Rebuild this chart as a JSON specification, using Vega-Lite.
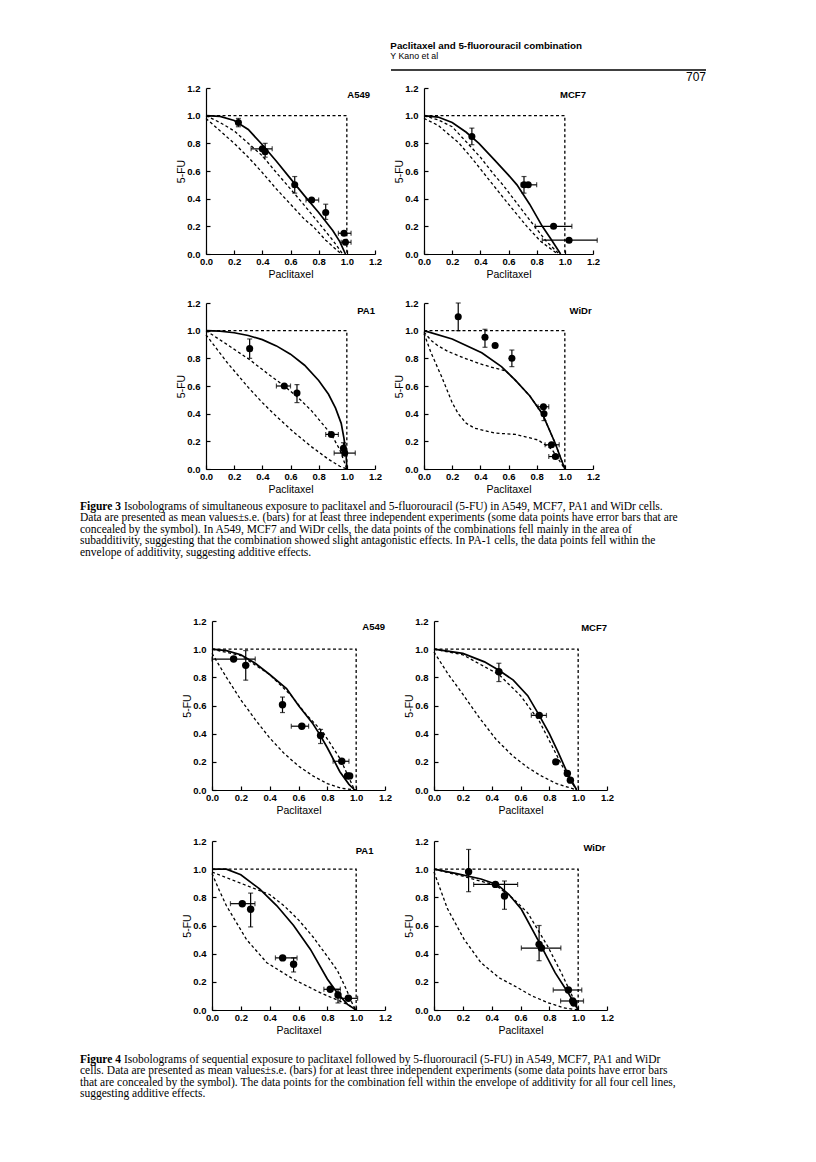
{
"$schema":"https://vega.github.io/schema/vega-lite/v6.json",
"background":"white",
"padding":{"left":80,"top":40,"right":5,"bottom":5},
"spacing":0,
"datasets":{
"f3":[
{"p":"A549","k":"lab","lx":1.165,"ly":1.15},
{"p":"A549","k":"box","s":0,"x":0,"y":1},{"p":"A549","k":"box","s":1,"x":1,"y":1},{"p":"A549","k":"box","s":2,"x":1,"y":0},
{"p":"A549","k":"solid","x":0,"y":1},{"p":"A549","k":"solid","x":0.1,"y":0.995},{"p":"A549","k":"solid","x":0.2,"y":0.965},{"p":"A549","k":"solid","x":0.3,"y":0.9},{"p":"A549","k":"solid","x":0.4,"y":0.79},{"p":"A549","k":"solid","x":0.5,"y":0.67},{"p":"A549","k":"solid","x":0.6,"y":0.545},{"p":"A549","k":"solid","x":0.7,"y":0.42},{"p":"A549","k":"solid","x":0.8,"y":0.3},{"p":"A549","k":"solid","x":0.9,"y":0.17},{"p":"A549","k":"solid","x":0.95,"y":0.09},{"p":"A549","k":"solid","x":0.99,"y":0},
{"p":"A549","k":"dash1","x":0,"y":1},{"p":"A549","k":"dash1","x":0.1,"y":0.95},{"p":"A549","k":"dash1","x":0.2,"y":0.89},{"p":"A549","k":"dash1","x":0.3,"y":0.8},{"p":"A549","k":"dash1","x":0.4,"y":0.71},{"p":"A549","k":"dash1","x":0.49,"y":0.6},{"p":"A549","k":"dash1","x":0.6,"y":0.47},{"p":"A549","k":"dash1","x":0.7,"y":0.35},{"p":"A549","k":"dash1","x":0.82,"y":0.2},{"p":"A549","k":"dash1","x":0.9,"y":0.1},{"p":"A549","k":"dash1","x":0.97,"y":0},
{"p":"A549","k":"dash2","x":0,"y":0.98},{"p":"A549","k":"dash2","x":0.1,"y":0.89},{"p":"A549","k":"dash2","x":0.2,"y":0.8},{"p":"A549","k":"dash2","x":0.3,"y":0.7},{"p":"A549","k":"dash2","x":0.39,"y":0.6},{"p":"A549","k":"dash2","x":0.5,"y":0.47},{"p":"A549","k":"dash2","x":0.6,"y":0.36},{"p":"A549","k":"dash2","x":0.7,"y":0.25},{"p":"A549","k":"dash2","x":0.76,"y":0.2},{"p":"A549","k":"dash2","x":0.85,"y":0.1},{"p":"A549","k":"dash2","x":0.96,"y":0},
{"p":"A549","k":"pt","x":0.23,"y":0.95,"ylo":0.92,"yhi":0.98},
{"p":"A549","k":"pt","x":0.4,"y":0.76,"xlo":0.32,"xhi":0.47},
{"p":"A549","k":"pt","x":0.42,"y":0.74,"ylo":0.7,"yhi":0.8},
{"p":"A549","k":"pt","x":0.63,"y":0.5,"ylo":0.44,"yhi":0.56},
{"p":"A549","k":"pt","x":0.75,"y":0.39,"xlo":0.71,"xhi":0.8},
{"p":"A549","k":"pt","x":0.85,"y":0.3,"ylo":0.25,"yhi":0.36},
{"p":"A549","k":"pt","x":0.98,"y":0.15,"xlo":0.94,"xhi":1.03},
{"p":"A549","k":"pt","x":0.99,"y":0.085,"xlo":0.96,"xhi":1.03},
{"p":"MCF7","k":"lab","lx":1.15,"ly":1.15},
{"p":"MCF7","k":"box","s":0,"x":0,"y":1},{"p":"MCF7","k":"box","s":1,"x":1,"y":1},{"p":"MCF7","k":"box","s":2,"x":1,"y":0},
{"p":"MCF7","k":"solid","x":0,"y":1},{"p":"MCF7","k":"solid","x":0.1,"y":0.99},{"p":"MCF7","k":"solid","x":0.2,"y":0.95},{"p":"MCF7","k":"solid","x":0.3,"y":0.88},{"p":"MCF7","k":"solid","x":0.39,"y":0.8},{"p":"MCF7","k":"solid","x":0.5,"y":0.68},{"p":"MCF7","k":"solid","x":0.6,"y":0.57},{"p":"MCF7","k":"solid","x":0.66,"y":0.5},{"p":"MCF7","k":"solid","x":0.75,"y":0.36},{"p":"MCF7","k":"solid","x":0.84,"y":0.2},{"p":"MCF7","k":"solid","x":0.9,"y":0.11},{"p":"MCF7","k":"solid","x":0.97,"y":0},
{"p":"MCF7","k":"dash1","x":0,"y":1},{"p":"MCF7","k":"dash1","x":0.1,"y":0.97},{"p":"MCF7","k":"dash1","x":0.2,"y":0.92},{"p":"MCF7","k":"dash1","x":0.31,"y":0.8},{"p":"MCF7","k":"dash1","x":0.4,"y":0.7},{"p":"MCF7","k":"dash1","x":0.5,"y":0.57},{"p":"MCF7","k":"dash1","x":0.56,"y":0.5},{"p":"MCF7","k":"dash1","x":0.65,"y":0.38},{"p":"MCF7","k":"dash1","x":0.785,"y":0.2},{"p":"MCF7","k":"dash1","x":0.87,"y":0.09},{"p":"MCF7","k":"dash1","x":0.96,"y":0},
{"p":"MCF7","k":"dash2","x":0,"y":0.98},{"p":"MCF7","k":"dash2","x":0.1,"y":0.93},{"p":"MCF7","k":"dash2","x":0.17,"y":0.87},{"p":"MCF7","k":"dash2","x":0.25,"y":0.8},{"p":"MCF7","k":"dash2","x":0.35,"y":0.68},{"p":"MCF7","k":"dash2","x":0.49,"y":0.5},{"p":"MCF7","k":"dash2","x":0.6,"y":0.36},{"p":"MCF7","k":"dash2","x":0.73,"y":0.2},{"p":"MCF7","k":"dash2","x":0.83,"y":0.09},{"p":"MCF7","k":"dash2","x":0.95,"y":0},
{"p":"MCF7","k":"pt","x":0.34,"y":0.85,"ylo":0.79,"yhi":0.91},
{"p":"MCF7","k":"pt","x":0.71,"y":0.5,"ylo":0.44,"yhi":0.56},
{"p":"MCF7","k":"pt","x":0.74,"y":0.5,"xlo":0.69,"xhi":0.8},
{"p":"MCF7","k":"pt","x":0.92,"y":0.2,"xlo":0.79,"xhi":1.05},
{"p":"MCF7","k":"pt","x":1.03,"y":0.1,"xlo":0.84,"xhi":1.23},
{"p":"PA1","k":"lab","lx":1.2,"ly":1.14},
{"p":"PA1","k":"box","s":0,"x":0,"y":1},{"p":"PA1","k":"box","s":1,"x":1,"y":1},{"p":"PA1","k":"box","s":2,"x":1,"y":0},
{"p":"PA1","k":"solid","x":0,"y":1},{"p":"PA1","k":"solid","x":0.1,"y":0.997},{"p":"PA1","k":"solid","x":0.2,"y":0.985},{"p":"PA1","k":"solid","x":0.3,"y":0.965},{"p":"PA1","k":"solid","x":0.4,"y":0.935},{"p":"PA1","k":"solid","x":0.5,"y":0.89},{"p":"PA1","k":"solid","x":0.6,"y":0.83},{"p":"PA1","k":"solid","x":0.7,"y":0.75},{"p":"PA1","k":"solid","x":0.8,"y":0.64},{"p":"PA1","k":"solid","x":0.87,"y":0.54},{"p":"PA1","k":"solid","x":0.92,"y":0.44},{"p":"PA1","k":"solid","x":0.96,"y":0.33},{"p":"PA1","k":"solid","x":0.98,"y":0.22},{"p":"PA1","k":"solid","x":0.995,"y":0.1},{"p":"PA1","k":"solid","x":1,"y":0},
{"p":"PA1","k":"dash1","x":0,"y":1},{"p":"PA1","k":"dash1","x":0.15,"y":0.9},{"p":"PA1","k":"dash1","x":0.31,"y":0.79},{"p":"PA1","k":"dash1","x":0.45,"y":0.68},{"p":"PA1","k":"dash1","x":0.556,"y":0.6},{"p":"PA1","k":"dash1","x":0.65,"y":0.52},{"p":"PA1","k":"dash1","x":0.75,"y":0.42},{"p":"PA1","k":"dash1","x":0.89,"y":0.25},{"p":"PA1","k":"dash1","x":0.95,"y":0.14},{"p":"PA1","k":"dash1","x":1,"y":0},
{"p":"PA1","k":"dash2","x":0,"y":0.97},{"p":"PA1","k":"dash2","x":0.15,"y":0.77},{"p":"PA1","k":"dash2","x":0.3,"y":0.59},{"p":"PA1","k":"dash2","x":0.4,"y":0.48},{"p":"PA1","k":"dash2","x":0.5,"y":0.38},{"p":"PA1","k":"dash2","x":0.63,"y":0.26},{"p":"PA1","k":"dash2","x":0.75,"y":0.16},{"p":"PA1","k":"dash2","x":0.87,"y":0.07},{"p":"PA1","k":"dash2","x":0.95,"y":0.02},{"p":"PA1","k":"dash2","x":1,"y":0},
{"p":"PA1","k":"pt","x":0.31,"y":0.87,"ylo":0.8,"yhi":0.94},
{"p":"PA1","k":"pt","x":0.556,"y":0.6,"xlo":0.5,"xhi":0.6},
{"p":"PA1","k":"pt","x":0.646,"y":0.55,"ylo":0.48,"yhi":0.61},
{"p":"PA1","k":"pt","x":0.89,"y":0.25,"xlo":0.85,"xhi":0.94},
{"p":"PA1","k":"pt","x":0.976,"y":0.15,"ylo":0.12,"yhi":0.19},
{"p":"PA1","k":"pt","x":0.985,"y":0.115,"xlo":0.91,"xhi":1.06},
{"p":"WiDr","k":"lab","lx":1.19,"ly":1.14},
{"p":"WiDr","k":"box","s":0,"x":0,"y":1},{"p":"WiDr","k":"box","s":1,"x":1,"y":1},{"p":"WiDr","k":"box","s":2,"x":1,"y":0},
{"p":"WiDr","k":"solid","x":0,"y":1},{"p":"WiDr","k":"solid","x":0.2,"y":0.94},{"p":"WiDr","k":"solid","x":0.41,"y":0.84},{"p":"WiDr","k":"solid","x":0.55,"y":0.74},{"p":"WiDr","k":"solid","x":0.65,"y":0.64},{"p":"WiDr","k":"solid","x":0.75,"y":0.53},{"p":"WiDr","k":"solid","x":0.84,"y":0.4},{"p":"WiDr","k":"solid","x":0.93,"y":0.19},{"p":"WiDr","k":"solid","x":1,"y":0},
{"p":"WiDr","k":"dash1","x":0,"y":0.99},{"p":"WiDr","k":"dash1","x":0.05,"y":0.93},{"p":"WiDr","k":"dash1","x":0.1,"y":0.89},{"p":"WiDr","k":"dash1","x":0.17,"y":0.85},{"p":"WiDr","k":"dash1","x":0.29,"y":0.8},{"p":"WiDr","k":"dash1","x":0.4,"y":0.76},{"p":"WiDr","k":"dash1","x":0.5,"y":0.73},{"p":"WiDr","k":"dash1","x":0.58,"y":0.71},{"p":"WiDr","k":"dash1","x":0.65,"y":0.64},{"p":"WiDr","k":"dash1","x":0.75,"y":0.53},{"p":"WiDr","k":"dash1","x":0.84,"y":0.4},{"p":"WiDr","k":"dash1","x":0.93,"y":0.19},{"p":"WiDr","k":"dash1","x":1,"y":0},
{"p":"WiDr","k":"dash2","x":0,"y":0.98},{"p":"WiDr","k":"dash2","x":0.05,"y":0.84},{"p":"WiDr","k":"dash2","x":0.124,"y":0.67},{"p":"WiDr","k":"dash2","x":0.2,"y":0.48},{"p":"WiDr","k":"dash2","x":0.243,"y":0.4},{"p":"WiDr","k":"dash2","x":0.3,"y":0.33},{"p":"WiDr","k":"dash2","x":0.36,"y":0.295},{"p":"WiDr","k":"dash2","x":0.5,"y":0.26},{"p":"WiDr","k":"dash2","x":0.65,"y":0.25},{"p":"WiDr","k":"dash2","x":0.81,"y":0.21},{"p":"WiDr","k":"dash2","x":0.91,"y":0.14},{"p":"WiDr","k":"dash2","x":1,"y":0},
{"p":"WiDr","k":"pt","x":0.243,"y":1.1,"ylo":1.0,"yhi":1.2},
{"p":"WiDr","k":"pt","x":0.433,"y":0.953,"ylo":0.88,"yhi":1.01},
{"p":"WiDr","k":"pt","x":0.505,"y":0.893},
{"p":"WiDr","k":"pt","x":0.624,"y":0.8,"ylo":0.74,"yhi":0.86},
{"p":"WiDr","k":"pt","x":0.848,"y":0.45,"xlo":0.81,"xhi":0.886},
{"p":"WiDr","k":"pt","x":0.852,"y":0.4,"ylo":0.35,"yhi":0.45},
{"p":"WiDr","k":"pt","x":0.905,"y":0.175,"xlo":0.86,"xhi":0.96},
{"p":"WiDr","k":"pt","x":0.933,"y":0.09,"xlo":0.886,"xhi":0.957}
],
"f4":[
{"p":"A549","k":"lab","lx":1.2,"ly":1.16},
{"p":"A549","k":"box","s":0,"x":0,"y":1},{"p":"A549","k":"box","s":1,"x":1,"y":1},{"p":"A549","k":"box","s":2,"x":1,"y":0},
{"p":"A549","k":"solid","x":0,"y":1},{"p":"A549","k":"solid","x":0.1,"y":0.99},{"p":"A549","k":"solid","x":0.2,"y":0.96},{"p":"A549","k":"solid","x":0.3,"y":0.9},{"p":"A549","k":"solid","x":0.4,"y":0.82},{"p":"A549","k":"solid","x":0.517,"y":0.72},{"p":"A549","k":"solid","x":0.6,"y":0.6},{"p":"A549","k":"solid","x":0.7,"y":0.47},{"p":"A549","k":"solid","x":0.75,"y":0.39},{"p":"A549","k":"solid","x":0.8,"y":0.3},{"p":"A549","k":"solid","x":0.887,"y":0.13},{"p":"A549","k":"solid","x":0.95,"y":0.04},{"p":"A549","k":"solid","x":0.99,"y":0},
{"p":"A549","k":"dash1","x":0,"y":1},{"p":"A549","k":"dash1","x":0.2,"y":0.955},{"p":"A549","k":"dash1","x":0.4,"y":0.82},{"p":"A549","k":"dash1","x":0.55,"y":0.67},{"p":"A549","k":"dash1","x":0.65,"y":0.54},{"p":"A549","k":"dash1","x":0.77,"y":0.41},{"p":"A549","k":"dash1","x":0.89,"y":0.22},{"p":"A549","k":"dash1","x":0.98,"y":0.02},{"p":"A549","k":"dash1","x":1,"y":0},
{"p":"A549","k":"dash2","x":0,"y":0.97},{"p":"A549","k":"dash2","x":0.1,"y":0.8},{"p":"A549","k":"dash2","x":0.2,"y":0.64},{"p":"A549","k":"dash2","x":0.3,"y":0.5},{"p":"A549","k":"dash2","x":0.4,"y":0.37},{"p":"A549","k":"dash2","x":0.5,"y":0.26},{"p":"A549","k":"dash2","x":0.6,"y":0.17},{"p":"A549","k":"dash2","x":0.7,"y":0.1},{"p":"A549","k":"dash2","x":0.8,"y":0.045},{"p":"A549","k":"dash2","x":0.9,"y":0.012},{"p":"A549","k":"dash2","x":1,"y":0},
{"p":"A549","k":"pt","x":0.15,"y":0.93,"xlo":0,"xhi":0.3},
{"p":"A549","k":"pt","x":0.234,"y":0.885,"ylo":0.78,"yhi":0.99},
{"p":"A549","k":"pt","x":0.489,"y":0.605,"ylo":0.55,"yhi":0.66},
{"p":"A549","k":"pt","x":0.623,"y":0.453,"xlo":0.55,"xhi":0.67},
{"p":"A549","k":"pt","x":0.753,"y":0.387,"ylo":0.33,"yhi":0.43},
{"p":"A549","k":"pt","x":0.9,"y":0.204,"xlo":0.84,"xhi":0.95},
{"p":"A549","k":"pt","x":0.94,"y":0.1},
{"p":"A549","k":"pt","x":0.955,"y":0.1},
{"p":"MCF7","k":"lab","lx":1.2,"ly":1.15},
{"p":"MCF7","k":"box","s":0,"x":0,"y":1},{"p":"MCF7","k":"box","s":1,"x":1,"y":1},{"p":"MCF7","k":"box","s":2,"x":1,"y":0},
{"p":"MCF7","k":"solid","x":0,"y":1},{"p":"MCF7","k":"solid","x":0.2,"y":0.97},{"p":"MCF7","k":"solid","x":0.35,"y":0.91},{"p":"MCF7","k":"solid","x":0.45,"y":0.85},{"p":"MCF7","k":"solid","x":0.55,"y":0.78},{"p":"MCF7","k":"solid","x":0.65,"y":0.67},{"p":"MCF7","k":"solid","x":0.73,"y":0.53},{"p":"MCF7","k":"solid","x":0.8,"y":0.4},{"p":"MCF7","k":"solid","x":0.86,"y":0.27},{"p":"MCF7","k":"solid","x":0.93,"y":0.11},{"p":"MCF7","k":"solid","x":0.99,"y":0},
{"p":"MCF7","k":"dash1","x":0,"y":1},{"p":"MCF7","k":"dash1","x":0.2,"y":0.96},{"p":"MCF7","k":"dash1","x":0.45,"y":0.82},{"p":"MCF7","k":"dash1","x":0.6,"y":0.67},{"p":"MCF7","k":"dash1","x":0.73,"y":0.49},{"p":"MCF7","k":"dash1","x":0.84,"y":0.27},{"p":"MCF7","k":"dash1","x":0.93,"y":0.09},{"p":"MCF7","k":"dash1","x":0.99,"y":0},
{"p":"MCF7","k":"dash2","x":0,"y":0.98},{"p":"MCF7","k":"dash2","x":0.05,"y":0.9},{"p":"MCF7","k":"dash2","x":0.1,"y":0.82},{"p":"MCF7","k":"dash2","x":0.2,"y":0.68},{"p":"MCF7","k":"dash2","x":0.317,"y":0.51},{"p":"MCF7","k":"dash2","x":0.43,"y":0.36},{"p":"MCF7","k":"dash2","x":0.548,"y":0.24},{"p":"MCF7","k":"dash2","x":0.65,"y":0.16},{"p":"MCF7","k":"dash2","x":0.733,"y":0.106},{"p":"MCF7","k":"dash2","x":0.85,"y":0.045},{"p":"MCF7","k":"dash2","x":0.99,"y":0},
{"p":"MCF7","k":"pt","x":0.45,"y":0.84,"ylo":0.77,"yhi":0.9},
{"p":"MCF7","k":"pt","x":0.73,"y":0.53,"xlo":0.675,"xhi":0.78},
{"p":"MCF7","k":"pt","x":0.845,"y":0.2},
{"p":"MCF7","k":"pt","x":0.925,"y":0.118},
{"p":"MCF7","k":"pt","x":0.946,"y":0.07},
{"p":"PA1","k":"lab","lx":1.12,"ly":1.13},
{"p":"PA1","k":"box","s":0,"x":0,"y":1},{"p":"PA1","k":"box","s":1,"x":1,"y":1},{"p":"PA1","k":"box","s":2,"x":1,"y":0},
{"p":"PA1","k":"solid","x":0,"y":1},{"p":"PA1","k":"solid","x":0.1,"y":1},{"p":"PA1","k":"solid","x":0.2,"y":0.96},{"p":"PA1","k":"solid","x":0.33,"y":0.86},{"p":"PA1","k":"solid","x":0.45,"y":0.74},{"p":"PA1","k":"solid","x":0.566,"y":0.6},{"p":"PA1","k":"solid","x":0.683,"y":0.43},{"p":"PA1","k":"solid","x":0.8,"y":0.22},{"p":"PA1","k":"solid","x":0.87,"y":0.12},{"p":"PA1","k":"solid","x":0.94,"y":0.04},{"p":"PA1","k":"solid","x":1,"y":0},
{"p":"PA1","k":"dash1","x":0,"y":0.98},{"p":"PA1","k":"dash1","x":0.1,"y":0.94},{"p":"PA1","k":"dash1","x":0.2,"y":0.9},{"p":"PA1","k":"dash1","x":0.3,"y":0.86},{"p":"PA1","k":"dash1","x":0.4,"y":0.82},{"p":"PA1","k":"dash1","x":0.5,"y":0.74},{"p":"PA1","k":"dash1","x":0.6,"y":0.64},{"p":"PA1","k":"dash1","x":0.7,"y":0.52},{"p":"PA1","k":"dash1","x":0.8,"y":0.38},{"p":"PA1","k":"dash1","x":0.87,"y":0.28},{"p":"PA1","k":"dash1","x":0.93,"y":0.15},{"p":"PA1","k":"dash1","x":0.98,"y":0.03},{"p":"PA1","k":"dash1","x":1,"y":0},
{"p":"PA1","k":"dash2","x":0,"y":0.97},{"p":"PA1","k":"dash2","x":0.05,"y":0.85},{"p":"PA1","k":"dash2","x":0.1,"y":0.74},{"p":"PA1","k":"dash2","x":0.24,"y":0.5},{"p":"PA1","k":"dash2","x":0.38,"y":0.336},{"p":"PA1","k":"dash2","x":0.566,"y":0.218},{"p":"PA1","k":"dash2","x":0.75,"y":0.123},{"p":"PA1","k":"dash2","x":0.94,"y":0.04},{"p":"PA1","k":"dash2","x":1,"y":0},
{"p":"PA1","k":"pt","x":0.21,"y":0.755,"xlo":0.128,"xhi":0.298},
{"p":"PA1","k":"pt","x":0.268,"y":0.715,"ylo":0.59,"yhi":0.83},
{"p":"PA1","k":"pt","x":0.49,"y":0.37,"xlo":0.44,"xhi":0.59},
{"p":"PA1","k":"pt","x":0.566,"y":0.325,"ylo":0.27,"yhi":0.37},
{"p":"PA1","k":"pt","x":0.82,"y":0.147,"xlo":0.776,"xhi":0.89},
{"p":"PA1","k":"pt","x":0.874,"y":0.106,"ylo":0.05,"yhi":0.147},
{"p":"PA1","k":"pt","x":0.946,"y":0.083,"xlo":0.89,"xhi":1.01},
{"p":"WiDr","k":"lab","lx":1.19,"ly":1.15},
{"p":"WiDr","k":"box","s":0,"x":0,"y":1},{"p":"WiDr","k":"box","s":1,"x":1,"y":1},{"p":"WiDr","k":"box","s":2,"x":1,"y":0},
{"p":"WiDr","k":"solid","x":0,"y":1},{"p":"WiDr","k":"solid","x":0.15,"y":0.97},{"p":"WiDr","k":"solid","x":0.326,"y":0.93},{"p":"WiDr","k":"solid","x":0.44,"y":0.89},{"p":"WiDr","k":"solid","x":0.52,"y":0.82},{"p":"WiDr","k":"solid","x":0.606,"y":0.715},{"p":"WiDr","k":"solid","x":0.72,"y":0.5},{"p":"WiDr","k":"solid","x":0.84,"y":0.265},{"p":"WiDr","k":"solid","x":0.93,"y":0.123},{"p":"WiDr","k":"solid","x":1,"y":0},
{"p":"WiDr","k":"dash1","x":0,"y":1},{"p":"WiDr","k":"dash1","x":0.2,"y":0.95},{"p":"WiDr","k":"dash1","x":0.43,"y":0.885},{"p":"WiDr","k":"dash1","x":0.55,"y":0.79},{"p":"WiDr","k":"dash1","x":0.65,"y":0.69},{"p":"WiDr","k":"dash1","x":0.79,"y":0.45},{"p":"WiDr","k":"dash1","x":0.88,"y":0.27},{"p":"WiDr","k":"dash1","x":0.95,"y":0.12},{"p":"WiDr","k":"dash1","x":1,"y":0},
{"p":"WiDr","k":"dash2","x":0,"y":0.98},{"p":"WiDr","k":"dash2","x":0.093,"y":0.72},{"p":"WiDr","k":"dash2","x":0.21,"y":0.5},{"p":"WiDr","k":"dash2","x":0.326,"y":0.336},{"p":"WiDr","k":"dash2","x":0.45,"y":0.23},{"p":"WiDr","k":"dash2","x":0.56,"y":0.17},{"p":"WiDr","k":"dash2","x":0.68,"y":0.1},{"p":"WiDr","k":"dash2","x":0.79,"y":0.052},{"p":"WiDr","k":"dash2","x":0.9,"y":0.015},{"p":"WiDr","k":"dash2","x":1,"y":0},
{"p":"WiDr","k":"pt","x":0.24,"y":0.982,"ylo":0.84,"yhi":1.14},
{"p":"WiDr","k":"pt","x":0.426,"y":0.892,"xlo":0.275,"xhi":0.58},
{"p":"WiDr","k":"pt","x":0.489,"y":0.81,"ylo":0.715,"yhi":0.916},
{"p":"WiDr","k":"pt","x":0.729,"y":0.466,"ylo":0.35,"yhi":0.6},
{"p":"WiDr","k":"pt","x":0.745,"y":0.44,"xlo":0.606,"xhi":0.88},
{"p":"WiDr","k":"pt","x":0.932,"y":0.142,"xlo":0.827,"xhi":1.025},
{"p":"WiDr","k":"pt","x":0.962,"y":0.064,"xlo":0.878,"xhi":1.037},
{"p":"WiDr","k":"pt","x":0.97,"y":0.05}
]
},
"vconcat":[
{"hconcat":[
 {"width":1,"height":1,"data":{"values":[]},"mark":"point"},
 {"width":315,"height":12,
  "title":{"text":"Paclitaxel and 5-fluorouracil combination","subtitle":"Y Kano et al","anchor":"start","font":"Liberation Sans","fontSize":9.8,"fontWeight":"bold","color":"black","subtitleFont":"Liberation Sans","subtitleFontSize":8.8,"subtitleColor":"black","subtitlePadding":1,"offset":9},
  "data":{"values":[{"page":"707"}]},
  "layer":[
   {"mark":{"type":"rule","color":"black","strokeWidth":1.3},"encoding":{"x":{"value":0},"x2":{"value":"width"},"y":{"value":0}}},
   {"mark":{"type":"text","align":"right","baseline":"top","font":"Liberation Sans","fontSize":12,"dy":2,"color":"black"},"encoding":{"x":{"value":"width"},"y":{"value":0},"text":{"field":"page"}}}
  ]}
 ],"spacing":309},
{"hconcat":[
 {"width":1,"height":1,"data":{"values":[]},"mark":"point"},
 {"concat":[
  {"width":169,"height":166,"data":{"name":"f3"},"transform":[{"filter":"datum.p == 'A549'"}],
   "encoding":{"x":{"field":"x","type":"quantitative","title":"Paclitaxel","scale":{"domain":[0,1.2],"nice":false},"axis":{"values":[0,0.2,0.4,0.6,0.8,1,1.2],"format":".1f"}},"y":{"field":"y","type":"quantitative","title":"5-FU","scale":{"domain":[0,1.2],"nice":false},"axis":{"values":[0,0.2,0.4,0.6,0.8,1,1.2],"format":".1f"}}},
   "layer":[
    {"transform":[{"filter":"datum.k == 'box'"}],"mark":{"type":"line","color":"black","strokeWidth":1.3,"strokeDash":[3,2.5]},"encoding":{"order":{"field":"s","type":"quantitative"}}},
    {"transform":[{"filter":"datum.k == 'dash1' || datum.k == 'dash2'"}],"mark":{"type":"line","color":"black","strokeWidth":1.3,"strokeDash":[3,2.5]},"encoding":{"detail":{"field":"k"}}},
    {"transform":[{"filter":"datum.k == 'solid'"}],"mark":{"type":"line","color":"black","strokeWidth":1.7}},
    {"transform":[{"filter":"datum.k == 'pt' && isValid(datum.xlo)"}],"mark":{"type":"errorbar","ticks":true,"color":"black","thickness":1.2},"encoding":{"x":{"field":"xlo","type":"quantitative","title":"Paclitaxel","scale":{"domain":[0,1.2],"nice":false}},"x2":{"field":"xhi"},"y":{"field":"y","type":"quantitative","title":"5-FU","scale":{"domain":[0,1.2],"nice":false}}}},
    {"transform":[{"filter":"datum.k == 'pt' && isValid(datum.ylo)"}],"mark":{"type":"errorbar","ticks":true,"color":"black","thickness":1.2},"encoding":{"y":{"field":"ylo","type":"quantitative","title":"5-FU","scale":{"domain":[0,1.2],"nice":false}},"y2":{"field":"yhi"},"x":{"field":"x","type":"quantitative","title":"Paclitaxel","scale":{"domain":[0,1.2],"nice":false}}}},
    {"transform":[{"filter":"datum.k == 'pt'"}],"mark":{"type":"point","filled":true,"size":50,"color":"black","opacity":1}},
    {"transform":[{"filter":"datum.k == 'lab'"}],"mark":{"type":"text","align":"right","baseline":"middle","fontSize":9.5,"fontWeight":"bold","font":"Liberation Sans","color":"black"},"encoding":{"x":{"field":"lx","type":"quantitative","title":"Paclitaxel","scale":{"domain":[0,1.2],"nice":false}},"y":{"field":"ly","type":"quantitative","title":"5-FU","scale":{"domain":[0,1.2],"nice":false}},"text":{"field":"p"}}}
   ]},
  {"width":169,"height":166,"data":{"name":"f3"},"transform":[{"filter":"datum.p == 'MCF7'"}],
   "encoding":{"x":{"field":"x","type":"quantitative","title":"Paclitaxel","scale":{"domain":[0,1.2],"nice":false},"axis":{"values":[0,0.2,0.4,0.6,0.8,1,1.2],"format":".1f"}},"y":{"field":"y","type":"quantitative","title":"5-FU","scale":{"domain":[0,1.2],"nice":false},"axis":{"values":[0,0.2,0.4,0.6,0.8,1,1.2],"format":".1f"}}},
   "layer":[
    {"transform":[{"filter":"datum.k == 'box'"}],"mark":{"type":"line","color":"black","strokeWidth":1.3,"strokeDash":[3,2.5]},"encoding":{"order":{"field":"s","type":"quantitative"}}},
    {"transform":[{"filter":"datum.k == 'dash1' || datum.k == 'dash2'"}],"mark":{"type":"line","color":"black","strokeWidth":1.3,"strokeDash":[3,2.5]},"encoding":{"detail":{"field":"k"}}},
    {"transform":[{"filter":"datum.k == 'solid'"}],"mark":{"type":"line","color":"black","strokeWidth":1.7}},
    {"transform":[{"filter":"datum.k == 'pt' && isValid(datum.xlo)"}],"mark":{"type":"errorbar","ticks":true,"color":"black","thickness":1.2},"encoding":{"x":{"field":"xlo","type":"quantitative","title":"Paclitaxel","scale":{"domain":[0,1.2],"nice":false}},"x2":{"field":"xhi"},"y":{"field":"y","type":"quantitative","title":"5-FU","scale":{"domain":[0,1.2],"nice":false}}}},
    {"transform":[{"filter":"datum.k == 'pt' && isValid(datum.ylo)"}],"mark":{"type":"errorbar","ticks":true,"color":"black","thickness":1.2},"encoding":{"y":{"field":"ylo","type":"quantitative","title":"5-FU","scale":{"domain":[0,1.2],"nice":false}},"y2":{"field":"yhi"},"x":{"field":"x","type":"quantitative","title":"Paclitaxel","scale":{"domain":[0,1.2],"nice":false}}}},
    {"transform":[{"filter":"datum.k == 'pt'"}],"mark":{"type":"point","filled":true,"size":50,"color":"black","opacity":1}},
    {"transform":[{"filter":"datum.k == 'lab'"}],"mark":{"type":"text","align":"right","baseline":"middle","fontSize":9.5,"fontWeight":"bold","font":"Liberation Sans","color":"black"},"encoding":{"x":{"field":"lx","type":"quantitative","title":"Paclitaxel","scale":{"domain":[0,1.2],"nice":false}},"y":{"field":"ly","type":"quantitative","title":"5-FU","scale":{"domain":[0,1.2],"nice":false}},"text":{"field":"p"}}}
   ]},
  {"width":169,"height":166,"data":{"name":"f3"},"transform":[{"filter":"datum.p == 'PA1'"}],
   "encoding":{"x":{"field":"x","type":"quantitative","title":"Paclitaxel","scale":{"domain":[0,1.2],"nice":false},"axis":{"values":[0,0.2,0.4,0.6,0.8,1,1.2],"format":".1f"}},"y":{"field":"y","type":"quantitative","title":"5-FU","scale":{"domain":[0,1.2],"nice":false},"axis":{"values":[0,0.2,0.4,0.6,0.8,1,1.2],"format":".1f"}}},
   "layer":[
    {"transform":[{"filter":"datum.k == 'box'"}],"mark":{"type":"line","color":"black","strokeWidth":1.3,"strokeDash":[3,2.5]},"encoding":{"order":{"field":"s","type":"quantitative"}}},
    {"transform":[{"filter":"datum.k == 'dash1' || datum.k == 'dash2'"}],"mark":{"type":"line","color":"black","strokeWidth":1.3,"strokeDash":[3,2.5]},"encoding":{"detail":{"field":"k"}}},
    {"transform":[{"filter":"datum.k == 'solid'"}],"mark":{"type":"line","color":"black","strokeWidth":1.7}},
    {"transform":[{"filter":"datum.k == 'pt' && isValid(datum.xlo)"}],"mark":{"type":"errorbar","ticks":true,"color":"black","thickness":1.2},"encoding":{"x":{"field":"xlo","type":"quantitative","title":"Paclitaxel","scale":{"domain":[0,1.2],"nice":false}},"x2":{"field":"xhi"},"y":{"field":"y","type":"quantitative","title":"5-FU","scale":{"domain":[0,1.2],"nice":false}}}},
    {"transform":[{"filter":"datum.k == 'pt' && isValid(datum.ylo)"}],"mark":{"type":"errorbar","ticks":true,"color":"black","thickness":1.2},"encoding":{"y":{"field":"ylo","type":"quantitative","title":"5-FU","scale":{"domain":[0,1.2],"nice":false}},"y2":{"field":"yhi"},"x":{"field":"x","type":"quantitative","title":"Paclitaxel","scale":{"domain":[0,1.2],"nice":false}}}},
    {"transform":[{"filter":"datum.k == 'pt'"}],"mark":{"type":"point","filled":true,"size":50,"color":"black","opacity":1}},
    {"transform":[{"filter":"datum.k == 'lab'"}],"mark":{"type":"text","align":"right","baseline":"middle","fontSize":9.5,"fontWeight":"bold","font":"Liberation Sans","color":"black"},"encoding":{"x":{"field":"lx","type":"quantitative","title":"Paclitaxel","scale":{"domain":[0,1.2],"nice":false}},"y":{"field":"ly","type":"quantitative","title":"5-FU","scale":{"domain":[0,1.2],"nice":false}},"text":{"field":"p"}}}
   ]},
  {"width":169,"height":166,"data":{"name":"f3"},"transform":[{"filter":"datum.p == 'WiDr'"}],
   "encoding":{"x":{"field":"x","type":"quantitative","title":"Paclitaxel","scale":{"domain":[0,1.2],"nice":false},"axis":{"values":[0,0.2,0.4,0.6,0.8,1,1.2],"format":".1f"}},"y":{"field":"y","type":"quantitative","title":"5-FU","scale":{"domain":[0,1.2],"nice":false},"axis":{"values":[0,0.2,0.4,0.6,0.8,1,1.2],"format":".1f"}}},
   "layer":[
    {"transform":[{"filter":"datum.k == 'box'"}],"mark":{"type":"line","color":"black","strokeWidth":1.3,"strokeDash":[3,2.5]},"encoding":{"order":{"field":"s","type":"quantitative"}}},
    {"transform":[{"filter":"datum.k == 'dash1' || datum.k == 'dash2'"}],"mark":{"type":"line","color":"black","strokeWidth":1.3,"strokeDash":[3,2.5]},"encoding":{"detail":{"field":"k"}}},
    {"transform":[{"filter":"datum.k == 'solid'"}],"mark":{"type":"line","color":"black","strokeWidth":1.7}},
    {"transform":[{"filter":"datum.k == 'pt' && isValid(datum.xlo)"}],"mark":{"type":"errorbar","ticks":true,"color":"black","thickness":1.2},"encoding":{"x":{"field":"xlo","type":"quantitative","title":"Paclitaxel","scale":{"domain":[0,1.2],"nice":false}},"x2":{"field":"xhi"},"y":{"field":"y","type":"quantitative","title":"5-FU","scale":{"domain":[0,1.2],"nice":false}}}},
    {"transform":[{"filter":"datum.k == 'pt' && isValid(datum.ylo)"}],"mark":{"type":"errorbar","ticks":true,"color":"black","thickness":1.2},"encoding":{"y":{"field":"ylo","type":"quantitative","title":"5-FU","scale":{"domain":[0,1.2],"nice":false}},"y2":{"field":"yhi"},"x":{"field":"x","type":"quantitative","title":"Paclitaxel","scale":{"domain":[0,1.2],"nice":false}}}},
    {"transform":[{"filter":"datum.k == 'pt'"}],"mark":{"type":"point","filled":true,"size":50,"color":"black","opacity":1}},
    {"transform":[{"filter":"datum.k == 'lab'"}],"mark":{"type":"text","align":"right","baseline":"middle","fontSize":9.5,"fontWeight":"bold","font":"Liberation Sans","color":"black"},"encoding":{"x":{"field":"lx","type":"quantitative","title":"Paclitaxel","scale":{"domain":[0,1.2],"nice":false}},"y":{"field":"ly","type":"quantitative","title":"5-FU","scale":{"domain":[0,1.2],"nice":false}},"text":{"field":"p"}}}
   ]}
 ],"columns":2,"bounds":"flush","spacing":{"row":49,"column":49}}
 ],"spacing":95},
{"width":1,"height":5,"data":{"values":[]},"mark":"point"},
{"width":620,"height":{"step":11.5},
 "data":{"values":[
  {"line":1,"lead":"Figure 3","text":"Isobolograms of simultaneous exposure to paclitaxel and 5-fluorouracil (5-FU) in A549, MCF7, PA1 and WiDr cells."},
  {"line":2,"text":"Data are presented as mean values±s.e. (bars) for at least three independent experiments (some data points have error bars that are"},
  {"line":3,"text":"concealed by the symbol). In A549, MCF7 and WiDr cells, the data points of the combinations fell mainly in the area of"},
  {"line":4,"text":"subadditivity, suggesting that the combination showed slight antagonistic effects. In PA-1 cells, the data points fell within the"},
  {"line":5,"text":"envelope of additivity, suggesting additive effects."}
 ]},
 "encoding":{"y":{"field":"line","type":"ordinal","axis":null},"x":{"value":0}},
 "layer":[
  {"transform":[{"filter":"datum.line == 1"}],"mark":{"type":"text","align":"left","font":"Liberation Serif","fontSize":11.5,"fontWeight":"bold","color":"black"},"encoding":{"text":{"field":"lead"}}},
  {"transform":[{"filter":"datum.line == 1"}],"mark":{"type":"text","align":"left","font":"Liberation Serif","fontSize":11.5,"dx":44,"color":"black"},"encoding":{"text":{"field":"text"}}},
  {"transform":[{"filter":"datum.line > 1"}],"mark":{"type":"text","align":"left","font":"Liberation Serif","fontSize":11.5,"color":"black"},"encoding":{"text":{"field":"text"}}}
 ]},
{"width":1,"height":57,"data":{"values":[]},"mark":"point"},
{"hconcat":[
 {"width":1,"height":1,"data":{"values":[]},"mark":"point"},
 {"concat":[
  {"width":173,"height":169,"data":{"name":"f4"},"transform":[{"filter":"datum.p == 'A549'"}],
   "encoding":{"x":{"field":"x","type":"quantitative","title":"Paclitaxel","scale":{"domain":[0,1.2],"nice":false},"axis":{"values":[0,0.2,0.4,0.6,0.8,1,1.2],"format":".1f"}},"y":{"field":"y","type":"quantitative","title":"5-FU","scale":{"domain":[0,1.2],"nice":false},"axis":{"values":[0,0.2,0.4,0.6,0.8,1,1.2],"format":".1f"}}},
   "layer":[
    {"transform":[{"filter":"datum.k == 'box'"}],"mark":{"type":"line","color":"black","strokeWidth":1.3,"strokeDash":[3,2.5]},"encoding":{"order":{"field":"s","type":"quantitative"}}},
    {"transform":[{"filter":"datum.k == 'dash1' || datum.k == 'dash2'"}],"mark":{"type":"line","color":"black","strokeWidth":1.3,"strokeDash":[3,2.5]},"encoding":{"detail":{"field":"k"}}},
    {"transform":[{"filter":"datum.k == 'solid'"}],"mark":{"type":"line","color":"black","strokeWidth":1.7}},
    {"transform":[{"filter":"datum.k == 'pt' && isValid(datum.xlo)"}],"mark":{"type":"errorbar","ticks":true,"color":"black","thickness":1.2},"encoding":{"x":{"field":"xlo","type":"quantitative","title":"Paclitaxel","scale":{"domain":[0,1.2],"nice":false}},"x2":{"field":"xhi"},"y":{"field":"y","type":"quantitative","title":"5-FU","scale":{"domain":[0,1.2],"nice":false}}}},
    {"transform":[{"filter":"datum.k == 'pt' && isValid(datum.ylo)"}],"mark":{"type":"errorbar","ticks":true,"color":"black","thickness":1.2},"encoding":{"y":{"field":"ylo","type":"quantitative","title":"5-FU","scale":{"domain":[0,1.2],"nice":false}},"y2":{"field":"yhi"},"x":{"field":"x","type":"quantitative","title":"Paclitaxel","scale":{"domain":[0,1.2],"nice":false}}}},
    {"transform":[{"filter":"datum.k == 'pt'"}],"mark":{"type":"point","filled":true,"size":55,"color":"black","opacity":1}},
    {"transform":[{"filter":"datum.k == 'lab'"}],"mark":{"type":"text","align":"right","baseline":"middle","fontSize":9.5,"fontWeight":"bold","font":"Liberation Sans","color":"black"},"encoding":{"x":{"field":"lx","type":"quantitative","title":"Paclitaxel","scale":{"domain":[0,1.2],"nice":false}},"y":{"field":"ly","type":"quantitative","title":"5-FU","scale":{"domain":[0,1.2],"nice":false}},"text":{"field":"p"}}}
   ]},
  {"width":173,"height":169,"data":{"name":"f4"},"transform":[{"filter":"datum.p == 'MCF7'"}],
   "encoding":{"x":{"field":"x","type":"quantitative","title":"Paclitaxel","scale":{"domain":[0,1.2],"nice":false},"axis":{"values":[0,0.2,0.4,0.6,0.8,1,1.2],"format":".1f"}},"y":{"field":"y","type":"quantitative","title":"5-FU","scale":{"domain":[0,1.2],"nice":false},"axis":{"values":[0,0.2,0.4,0.6,0.8,1,1.2],"format":".1f"}}},
   "layer":[
    {"transform":[{"filter":"datum.k == 'box'"}],"mark":{"type":"line","color":"black","strokeWidth":1.3,"strokeDash":[3,2.5]},"encoding":{"order":{"field":"s","type":"quantitative"}}},
    {"transform":[{"filter":"datum.k == 'dash1' || datum.k == 'dash2'"}],"mark":{"type":"line","color":"black","strokeWidth":1.3,"strokeDash":[3,2.5]},"encoding":{"detail":{"field":"k"}}},
    {"transform":[{"filter":"datum.k == 'solid'"}],"mark":{"type":"line","color":"black","strokeWidth":1.7}},
    {"transform":[{"filter":"datum.k == 'pt' && isValid(datum.xlo)"}],"mark":{"type":"errorbar","ticks":true,"color":"black","thickness":1.2},"encoding":{"x":{"field":"xlo","type":"quantitative","title":"Paclitaxel","scale":{"domain":[0,1.2],"nice":false}},"x2":{"field":"xhi"},"y":{"field":"y","type":"quantitative","title":"5-FU","scale":{"domain":[0,1.2],"nice":false}}}},
    {"transform":[{"filter":"datum.k == 'pt' && isValid(datum.ylo)"}],"mark":{"type":"errorbar","ticks":true,"color":"black","thickness":1.2},"encoding":{"y":{"field":"ylo","type":"quantitative","title":"5-FU","scale":{"domain":[0,1.2],"nice":false}},"y2":{"field":"yhi"},"x":{"field":"x","type":"quantitative","title":"Paclitaxel","scale":{"domain":[0,1.2],"nice":false}}}},
    {"transform":[{"filter":"datum.k == 'pt'"}],"mark":{"type":"point","filled":true,"size":55,"color":"black","opacity":1}},
    {"transform":[{"filter":"datum.k == 'lab'"}],"mark":{"type":"text","align":"right","baseline":"middle","fontSize":9.5,"fontWeight":"bold","font":"Liberation Sans","color":"black"},"encoding":{"x":{"field":"lx","type":"quantitative","title":"Paclitaxel","scale":{"domain":[0,1.2],"nice":false}},"y":{"field":"ly","type":"quantitative","title":"5-FU","scale":{"domain":[0,1.2],"nice":false}},"text":{"field":"p"}}}
   ]},
  {"width":173,"height":169,"data":{"name":"f4"},"transform":[{"filter":"datum.p == 'PA1'"}],
   "encoding":{"x":{"field":"x","type":"quantitative","title":"Paclitaxel","scale":{"domain":[0,1.2],"nice":false},"axis":{"values":[0,0.2,0.4,0.6,0.8,1,1.2],"format":".1f"}},"y":{"field":"y","type":"quantitative","title":"5-FU","scale":{"domain":[0,1.2],"nice":false},"axis":{"values":[0,0.2,0.4,0.6,0.8,1,1.2],"format":".1f"}}},
   "layer":[
    {"transform":[{"filter":"datum.k == 'box'"}],"mark":{"type":"line","color":"black","strokeWidth":1.3,"strokeDash":[3,2.5]},"encoding":{"order":{"field":"s","type":"quantitative"}}},
    {"transform":[{"filter":"datum.k == 'dash1' || datum.k == 'dash2'"}],"mark":{"type":"line","color":"black","strokeWidth":1.3,"strokeDash":[3,2.5]},"encoding":{"detail":{"field":"k"}}},
    {"transform":[{"filter":"datum.k == 'solid'"}],"mark":{"type":"line","color":"black","strokeWidth":1.7}},
    {"transform":[{"filter":"datum.k == 'pt' && isValid(datum.xlo)"}],"mark":{"type":"errorbar","ticks":true,"color":"black","thickness":1.2},"encoding":{"x":{"field":"xlo","type":"quantitative","title":"Paclitaxel","scale":{"domain":[0,1.2],"nice":false}},"x2":{"field":"xhi"},"y":{"field":"y","type":"quantitative","title":"5-FU","scale":{"domain":[0,1.2],"nice":false}}}},
    {"transform":[{"filter":"datum.k == 'pt' && isValid(datum.ylo)"}],"mark":{"type":"errorbar","ticks":true,"color":"black","thickness":1.2},"encoding":{"y":{"field":"ylo","type":"quantitative","title":"5-FU","scale":{"domain":[0,1.2],"nice":false}},"y2":{"field":"yhi"},"x":{"field":"x","type":"quantitative","title":"Paclitaxel","scale":{"domain":[0,1.2],"nice":false}}}},
    {"transform":[{"filter":"datum.k == 'pt'"}],"mark":{"type":"point","filled":true,"size":55,"color":"black","opacity":1}},
    {"transform":[{"filter":"datum.k == 'lab'"}],"mark":{"type":"text","align":"right","baseline":"middle","fontSize":9.5,"fontWeight":"bold","font":"Liberation Sans","color":"black"},"encoding":{"x":{"field":"lx","type":"quantitative","title":"Paclitaxel","scale":{"domain":[0,1.2],"nice":false}},"y":{"field":"ly","type":"quantitative","title":"5-FU","scale":{"domain":[0,1.2],"nice":false}},"text":{"field":"p"}}}
   ]},
  {"width":173,"height":169,"data":{"name":"f4"},"transform":[{"filter":"datum.p == 'WiDr'"}],
   "encoding":{"x":{"field":"x","type":"quantitative","title":"Paclitaxel","scale":{"domain":[0,1.2],"nice":false},"axis":{"values":[0,0.2,0.4,0.6,0.8,1,1.2],"format":".1f"}},"y":{"field":"y","type":"quantitative","title":"5-FU","scale":{"domain":[0,1.2],"nice":false},"axis":{"values":[0,0.2,0.4,0.6,0.8,1,1.2],"format":".1f"}}},
   "layer":[
    {"transform":[{"filter":"datum.k == 'box'"}],"mark":{"type":"line","color":"black","strokeWidth":1.3,"strokeDash":[3,2.5]},"encoding":{"order":{"field":"s","type":"quantitative"}}},
    {"transform":[{"filter":"datum.k == 'dash1' || datum.k == 'dash2'"}],"mark":{"type":"line","color":"black","strokeWidth":1.3,"strokeDash":[3,2.5]},"encoding":{"detail":{"field":"k"}}},
    {"transform":[{"filter":"datum.k == 'solid'"}],"mark":{"type":"line","color":"black","strokeWidth":1.7}},
    {"transform":[{"filter":"datum.k == 'pt' && isValid(datum.xlo)"}],"mark":{"type":"errorbar","ticks":true,"color":"black","thickness":1.2},"encoding":{"x":{"field":"xlo","type":"quantitative","title":"Paclitaxel","scale":{"domain":[0,1.2],"nice":false}},"x2":{"field":"xhi"},"y":{"field":"y","type":"quantitative","title":"5-FU","scale":{"domain":[0,1.2],"nice":false}}}},
    {"transform":[{"filter":"datum.k == 'pt' && isValid(datum.ylo)"}],"mark":{"type":"errorbar","ticks":true,"color":"black","thickness":1.2},"encoding":{"y":{"field":"ylo","type":"quantitative","title":"5-FU","scale":{"domain":[0,1.2],"nice":false}},"y2":{"field":"yhi"},"x":{"field":"x","type":"quantitative","title":"Paclitaxel","scale":{"domain":[0,1.2],"nice":false}}}},
    {"transform":[{"filter":"datum.k == 'pt'"}],"mark":{"type":"point","filled":true,"size":55,"color":"black","opacity":1}},
    {"transform":[{"filter":"datum.k == 'lab'"}],"mark":{"type":"text","align":"right","baseline":"middle","fontSize":9.5,"fontWeight":"bold","font":"Liberation Sans","color":"black"},"encoding":{"x":{"field":"lx","type":"quantitative","title":"Paclitaxel","scale":{"domain":[0,1.2],"nice":false}},"y":{"field":"ly","type":"quantitative","title":"5-FU","scale":{"domain":[0,1.2],"nice":false}},"text":{"field":"p"}}}
   ]}
 ],"columns":2,"bounds":"flush","spacing":{"row":51,"column":49}}
 ],"spacing":101},
{"width":1,"height":17,"data":{"values":[]},"mark":"point"},
{"width":620,"height":{"step":11.5},
 "data":{"values":[
  {"line":1,"lead":"Figure 4","text":"Isobolograms of sequential exposure to paclitaxel followed by 5-fluorouracil (5-FU) in A549, MCF7, PA1 and WiDr"},
  {"line":2,"text":"cells. Data are presented as mean values±s.e. (bars) for at least three independent experiments (some data points have error bars"},
  {"line":3,"text":"that are concealed by the symbol). The data points for the combination fell within the envelope of additivity for all four cell lines,"},
  {"line":4,"text":"suggesting additive effects."}
 ]},
 "encoding":{"y":{"field":"line","type":"ordinal","axis":null},"x":{"value":0}},
 "layer":[
  {"transform":[{"filter":"datum.line == 1"}],"mark":{"type":"text","align":"left","font":"Liberation Serif","fontSize":11.5,"fontWeight":"bold","color":"black"},"encoding":{"text":{"field":"lead"}}},
  {"transform":[{"filter":"datum.line == 1"}],"mark":{"type":"text","align":"left","font":"Liberation Serif","fontSize":11.5,"dx":44,"color":"black"},"encoding":{"text":{"field":"text"}}},
  {"transform":[{"filter":"datum.line > 1"}],"mark":{"type":"text","align":"left","font":"Liberation Serif","fontSize":11.5,"color":"black"},"encoding":{"text":{"field":"text"}}}
 ]}
],
"config":{
 "font":"Liberation Sans",
 "view":{"stroke":null},
 "axis":{"grid":false,"domainColor":"black","domainWidth":1.2,"tickColor":"black","tickWidth":1.2,"tickSize":-4,"labelColor":"black","titleColor":"black","labelFont":"Liberation Sans","labelFontSize":9.5,"labelFontWeight":"bold","titleFont":"Liberation Sans","titleFontSize":10.5,"titleFontWeight":"normal","labelFlush":false,"labelOverlap":false},
 "axisX":{"labelPadding":6,"titlePadding":4},
 "axisY":{"labelPadding":10,"titlePadding":0}
}
}
